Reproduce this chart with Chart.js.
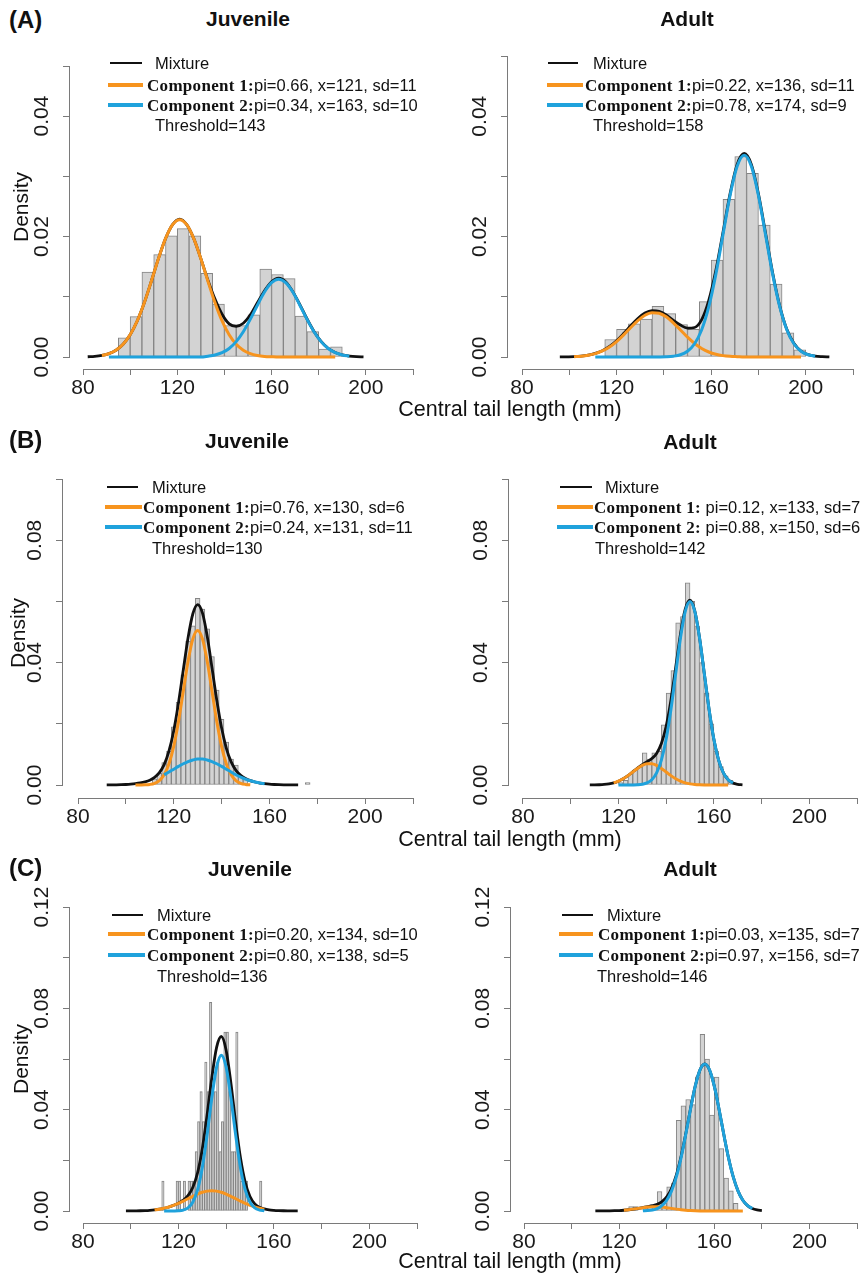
<!DOCTYPE html>
<html><head><meta charset="utf-8">
<script src="https://cdn.jsdelivr.net/npm/chart.js@4.4.1/dist/chart.umd.min.js"></script>
<style>
html,body{margin:0;padding:0;background:#fff;}
body{width:867px;height:1278px;position:relative;overflow:hidden;font-family:"Liberation Sans",Arial,sans-serif;color:#111;}
canvas{position:absolute;}
.t{position:absolute;white-space:nowrap;line-height:1;}
.lg{position:absolute;height:0;}
.cmp{font-family:"Liberation Serif","Times New Roman",serif;font-weight:bold;font-size:17px;letter-spacing:0.3px;}
</style></head>
<body>
<script>
// ---------- shared axis ticks ----------
const xTickValues = [80,100,120,140,160,180,200,220];
const xTickLabels = ['80','','120','','160','','200',''];
const yTicksA1 = [0,0.01,0.02,0.03,0.04,0.0483];
const yLabelsA1 = ['0.00','','0.02','','0.04',''];
const yTicksA2 = [0,0.01,0.02,0.03,0.04,0.05];
const yLabelsA2 = ['0.00','','0.02','','0.04',''];
const yTicksB = [0,0.02,0.04,0.06,0.08,0.10];
const yLabelsB = ['0.00','','0.04','','0.08',''];
const yTicksC = [0,0.02,0.04,0.06,0.08,0.10,0.12];
const yLabelsC = ['0.00','','0.04','','0.08','','0.12'];

// ---------- (A) Juvenile ----------
const aJuvBinWidth = 5;
const aJuvBins = [95,100,105,110,115,120,125,130,135,140,145,150,155,160,165,170,175,180,185];
const aJuvDensity = [0.0032,0.0067,0.0141,0.0170,0.0201,0.0213,0.0201,0.0139,0.0088,0.0052,0.0052,0.0070,0.0146,0.0137,0.0130,0.0068,0.0042,0.0013,0.0017];
const aJuvCurveX = [82,85,88,91,94,97,100,103,106,109,112,115,118,121,124,127,130,133,136,139,142,145,148,151,154,157,160,163,166,169,172,175,178,181,184,187,190,193,196,199];
const aJuvMixture = [0.00004,0.0001,0.00025,0.00055,0.00112,0.00211,0.00369,0.00598,0.0090,0.01258,0.01632,0.01965,0.02197,0.0229,0.02197,0.01965,0.01633,0.01275,0.0096,0.0071,0.0055,0.0051,0.0056,0.0070,0.0090,0.0110,0.0125,0.0131,0.0125,0.01085,0.0087,0.00635,0.00425,0.0026,0.00145,0.00075,0.00035,0.00015,0.00005,0.00002];
const aJuvComp1 = [null,null,0.00025,0.00055,0.00112,0.00211,0.00369,0.00598,0.0090,0.01258,0.01632,0.01965,0.02197,0.0228,0.02197,0.01965,0.01632,0.01258,0.0090,0.00598,0.00369,0.00211,0.00112,0.00055,0.00025,0.0001,0.00004,0,0,0,0,0,0,0,0,0,null,null,null,null];
const aJuvComp2 = [null,null,null,0,0,0,0,0,0,0,0,0,0,0,0,0,0,0.00014,0.00034,0.00072,0.00142,0.00255,0.00419,0.00628,0.0086,0.01078,0.01233,0.0129,0.01233,0.01078,0.0086,0.00628,0.00419,0.00255,0.00142,0.00072,0.00034,0.00014,null,null];

// ---------- (A) Adult ----------
const aAdBinWidth = 5;
const aAdBins = [115,120,125,130,135,140,145,150,155,160,165,170,175,180,185,190,195];
const aAdDensity = [0.0029,0.0046,0.0055,0.0063,0.0084,0.0072,0.0054,0.0046,0.0092,0.0161,0.0262,0.0333,0.0305,0.0219,0.0121,0.0040,0.0012];
const aAdCurveX = [96,99,102,105,108,111,114,117,120,123,126,129,132,135,138,141,144,147,150,153,156,159,162,165,168,171,174,177,180,183,186,189,192,195,198,201,204,207,210];
const aAdMixture = [0.00001,0.00003,0.00006,0.00014,0.0003,0.0006,0.00105,0.00175,0.0027,0.0039,0.0052,0.0064,0.0073,0.0077,0.0076,0.0070,0.0061,0.0053,0.0048,0.0049,0.0062,0.0094,0.0144,0.0207,0.0271,0.0320,0.0338,0.0320,0.0271,0.0206,0.0140,0.0085,0.0046,0.0023,0.0010,0.0004,0.00014,0.00005,0.00001];
const aAdComp1 = [null,null,0.00006,0.00014,0.00029,0.00056,0.001,0.00166,0.00257,0.00368,0.0049,0.00604,0.00693,0.00737,0.00728,0.00667,0.00568,0.00449,0.00329,0.00224,0.00142,0.00083,0.00045,0.00023,0.00011,0.00005,0,0,0,0,0,0,0,0,0,null,null,null,null];
const aAdComp2 = [null,null,null,null,null,0,0,0,0,0,0,0,0,0,0.00001,0.00004,0.00013,0.00037,0.00096,0.0022,0.00453,0.00836,0.01377,0.02032,0.02682,0.03169,0.0335,0.03169,0.02682,0.02032,0.01377,0.00836,0.00453,0.0022,0.00096,0.00037,0.00013,null,null];

// ---------- (B) Juvenile ----------
const bJuvBinWidth = 2;
const bJuvBins = [111,113,115,117,119,121,123,125,127,129,131,133,135,137,139,141,143,145,147,149,175];
const bJuvDensity = [0.0020,0.0038,0.0073,0.0110,0.0190,0.0270,0.0360,0.0470,0.0520,0.0610,0.0575,0.0510,0.0420,0.0310,0.0215,0.0140,0.0085,0.0065,0.0030,0.0018,0.0008];
const bJuvCurveX = [92,94,96,98,100,102,104,106,108,110,112,114,116,118,120,122,124,126,128,130,132,134,136,138,140,142,144,146,148,150,152,154,156,158,160,162,164,166,168,170,172];
const bJuvMixture = [0.00002,0.00003,0.00005,0.00009,0.00016,0.00026,0.00042,0.00066,0.00102,0.00156,0.00247,0.00402,0.00667,0.01106,0.01776,0.02684,0.03757,0.04811,0.05596,0.05897,0.05624,0.04863,0.0383,0.0277,0.01868,0.01199,0.00755,0.00479,0.00314,0.0021,0.00143,0.00098,0.00064,0.00042,0.00026,0.00016,0.00009,0.00005,0.00003,0.00002,0.00001];
const bJuvComp1 = [null,null,null,null,null,null,0,0.00002,0.00006,0.00019,0.00056,0.00144,0.00332,0.00683,0.0126,0.02076,0.03063,0.04044,0.04777,0.0505,0.04777,0.04044,0.03063,0.02076,0.0126,0.00683,0.00332,0.00144,0.00056,0.00019,0.00006,null,null,null,null,null,null,null,null,null,null];
const bJuvComp2 = [null,null,null,null,null,null,null,null,null,null,null,null,0.00335,0.00423,0.00516,0.00608,0.00694,0.00767,0.00819,0.00847,0.00847,0.00819,0.00767,0.00694,0.00608,0.00516,0.00423,0.00335,0.00258,0.00191,0.00137,0.00096,0.00064,0.00042,null,null,null,null,null,null,null];

// ---------- (B) Adult ----------
const bAdBinWidth = 2;
const bAdBins = [120,122,124,126,128,130,132,134,136,138,140,142,144,146,148,150,152,154,156,158,160,162,164,166,168];
const bAdDensity = [0.0008,0.0015,0.0035,0.0049,0.0060,0.0105,0.0085,0.0105,0.0110,0.0197,0.0300,0.0374,0.0530,0.0550,0.0661,0.0600,0.0520,0.0400,0.0300,0.0200,0.0110,0.0060,0.0030,0.0015,0.0005];
const bAdCurveX = [108,110,112,114,116,118,120,122,124,126,128,130,132,134,136,138,140,142,144,146,148,150,152,154,156,158,160,162,164,166,168,170,172];
const bAdMixture = [0.00001,0.00003,0.00008,0.00018,0.00037,0.0007,0.00125,0.00204,0.00307,0.00427,0.00549,0.00662,0.0076,0.00865,0.01033,0.01354,0.01921,0.02773,0.03843,0.04929,0.05745,0.06037,0.05693,0.04812,0.03642,0.02468,0.01496,0.00812,0.00394,0.00172,0.00067,0.00023,0.00007];
const bAdComp1 = [null,null,null,null,null,0.0007,0.00125,0.00204,0.00306,0.00425,0.00542,0.00639,0.00693,0.00693,0.00639,0.00542,0.00425,0.00306,0.00204,0.00125,0.0007,0.00037,0.00018,0.00008,0.00003,0.00001,0,0,0,0,null,null,null];
const bAdComp2 = [null,null,null,null,null,null,0,0,0,0.00002,0.00007,0.00023,0.00067,0.00172,0.00394,0.00812,0.01496,0.02467,0.03639,0.04804,0.05675,0.06,0.05675,0.04804,0.03639,0.02467,0.01496,0.00812,0.00394,0.00172,0.00067,null,null];

// ---------- (C) Juvenile ----------
const cJuvBinWidth = 1;
const cJuvBins = [113,119,120,122,124,125,126,127,128,129,130,131,132,133,134,135,136,137,138,139,140,141,142,143,144,145,146,147,148,154];
const cJuvDensity = [0.0118,0.0118,0.0118,0.0118,0.0118,0.0118,0.0118,0.0235,0.0353,0.0471,0.0353,0.0588,0.0471,0.0824,0.0471,0.0471,0.0588,0.0235,0.0353,0.0706,0.0706,0.0471,0.0235,0.0235,0.0706,0.0235,0.0118,0.0118,0.0118,0.0118];
const cJuvCurveX = [98,100,102,104,106,108,110,112,114,116,118,120,122,124,126,128,130,132,134,136,138,140,142,144,146,148,150,152,154,156,158,160,162,164,166,168,170];
const cJuvMixture = [0.00001,0.00002,0.00005,0.00009,0.00016,0.00027,0.00045,0.00071,0.00108,0.00158,0.00224,0.00309,0.00426,0.00607,0.00926,0.015,0.02448,0.03778,0.05266,0.06461,0.06888,0.06345,0.05047,0.03479,0.02099,0.01132,0.00567,0.0028,0.00145,0.0008,0.00045,0.00027,0.00016,0.00009,0.00005,0.00002,0.00001];
const cJuvComp1 = [null,null,null,null,null,null,0.00045,0.00071,0.00108,0.00158,0.00222,0.003,0.00389,0.00485,0.00581,0.00668,0.00738,0.00784,0.008,0.00784,0.00738,0.00668,0.00581,0.00485,0.00389,0.003,0.00222,0.00158,0.00108,0.00071,null,null,null,null,null,null,null];
const cJuvComp2 = [null,null,null,null,null,null,null,null,0,0,0.00002,0.00009,0.00037,0.00122,0.00345,0.00832,0.0171,0.02994,0.04466,0.05677,0.0615,0.05677,0.04466,0.02994,0.0171,0.00832,0.00345,0.00122,0.00037,0.00009,null,null,null,null,null,null,null];

// ---------- (C) Adult ----------
const cAdBinWidth = 2;
const cAdBins = [124,126,130,132,134,136,138,140,142,144,146,148,150,152,154,156,158,160,162,164,166,168];
const cAdDensity = [0.0017,0.0017,0.0017,0.0017,0.0017,0.0077,0.0030,0.0095,0.0110,0.0358,0.0415,0.0440,0.0420,0.0530,0.0697,0.0600,0.0379,0.0529,0.0246,0.0130,0.0080,0.0030];
const cAdCurveX = [110,112,114,116,118,120,122,124,126,128,130,132,134,136,138,140,142,144,146,148,150,152,154,156,158,160,162,164,166,168,170,172,174,176,178,180];
const cAdMixture = [0.00001,0.00002,0.00004,0.00007,0.00011,0.00017,0.0003,0.00049,0.00075,0.00105,0.00138,0.00171,0.0021,0.00266,0.00368,0.00558,0.00888,0.01409,0.02139,0.03049,0.04035,0.04936,0.05572,0.05802,0.05568,0.04927,0.04018,0.03019,0.0209,0.01335,0.00785,0.00426,0.00213,0.00098,0.00042,0.00016];
const cAdComp1 = [null,null,null,null,null,null,0.0003,0.00049,0.00074,0.00103,0.00132,0.00155,0.00168,0.00168,0.00155,0.00132,0.00103,0.00074,0.00049,0.0003,0.00017,0.00009,0.00004,0.00002,0,0,0,0,0,0,0,0,null,null,null,null];
const cAdComp2 = [null,null,null,null,null,null,null,null,null,null,0.00006,0.00016,0.00042,0.00098,0.00213,0.00426,0.00785,0.01335,0.0209,0.03019,0.04018,0.04927,0.05568,0.058,0.05568,0.04927,0.04018,0.03019,0.0209,0.01335,0.00785,0.00426,0.00213,0.00098,null,null];

// ---------- text ----------
const rowLabels = ['(A)','(B)','(C)'];
const groupTitles = ['Juvenile','Adult'];
const yAxisTitle = 'Density';
const xAxisTitle = 'Central tail length (mm)';
const legendMixture = 'Mixture';
const legendComp = ['Component 1:','Component 2:'];

const COL_MIX = '#111111', COL_C1 = '#F7941E', COL_C2 = '#1FA2DC';
const FONT = '"Liberation Sans", Arial, sans-serif';

const panels = [
  {geo:{axisX:70,x80:83,x220:413,topY:66,y0:357,xAxisY:369}, ymax:0.0483, yT:yTicksA1, yL:yLabelsA1,
   bins:aJuvBins, bw:aJuvBinWidth, dens:aJuvDensity, cx:aJuvCurveX, mix:aJuvMixture, c1:aJuvComp1, c2:aJuvComp2,
   leg:{mix:[110,142,63], mixText:155, comp:[108,143], compText:147, rows:[85,105], thr:[155,125]},
   c1t:'pi=0.66, x=121, sd=11', c2t:'pi=0.34, x=163, sd=10', th:'Threshold=143'},
  {geo:{axisX:508,x80:522,x220:853,topY:56,y0:357,xAxisY:369}, ymax:0.05, yT:yTicksA2, yL:yLabelsA2,
   bins:aAdBins, bw:aAdBinWidth, dens:aAdDensity, cx:aAdCurveX, mix:aAdMixture, c1:aAdComp1, c2:aAdComp2,
   leg:{mix:[548,578,63], mixText:593, comp:[547,583], compText:585, rows:[85,105], thr:[593,125]},
   c1t:'pi=0.22, x=136, sd=11', c2t:'pi=0.78, x=174, sd=9', th:'Threshold=158'},
  {geo:{axisX:63,x80:78,x220:413,topY:479,y0:785,xAxisY:798}, ymax:0.10, yT:yTicksB, yL:yLabelsB,
   bins:bJuvBins, bw:bJuvBinWidth, dens:bJuvDensity, cx:bJuvCurveX, mix:bJuvMixture, c1:bJuvComp1, c2:bJuvComp2,
   leg:{mix:[107,138,487], mixText:152, comp:[105,142], compText:143, rows:[507,527], thr:[152,548]},
   c1t:'pi=0.76, x=130, sd=6', c2t:'pi=0.24, x=131, sd=11', th:'Threshold=130'},
  {geo:{axisX:509,x80:523,x220:857,topY:479,y0:785,xAxisY:798}, ymax:0.10, yT:yTicksB, yL:yLabelsB,
   bins:bAdBins, bw:bAdBinWidth, dens:bAdDensity, cx:bAdCurveX, mix:bAdMixture, c1:bAdComp1, c2:bAdComp2,
   leg:{mix:[560,592,487], mixText:605, comp:[557,593], compText:594, rows:[507,527], thr:[595,548]},
   c1t:' pi=0.12, x=133, sd=7', c2t:' pi=0.88, x=150, sd=6', th:'Threshold=142'},
  {geo:{axisX:70,x80:83,x220:417,topY:907,y0:1211,xAxisY:1223}, ymax:0.12, yT:yTicksC, yL:yLabelsC,
   bins:cJuvBins, bw:cJuvBinWidth, dens:cJuvDensity, cx:cJuvCurveX, mix:cJuvMixture, c1:cJuvComp1, c2:cJuvComp2,
   leg:{mix:[112,143,915], mixText:157, comp:[108,145], compText:147, rows:[934,955], thr:[157,976]},
   c1t:'pi=0.20, x=134, sd=10', c2t:'pi=0.80, x=138, sd=5', th:'Threshold=136'},
  {geo:{axisX:511,x80:524,x220:857,topY:907,y0:1211,xAxisY:1223}, ymax:0.12, yT:yTicksC, yL:yLabelsC,
   bins:cAdBins, bw:cAdBinWidth, dens:cAdDensity, cx:cAdCurveX, mix:cAdMixture, c1:cAdComp1, c2:cAdComp2,
   leg:{mix:[562,593,915], mixText:607, comp:[559,593], compText:598, rows:[934,955], thr:[597,976]},
   c1t:'pi=0.03, x=135, sd=7', c2t:'pi=0.97, x=156, sd=7', th:'Threshold=146'}
];

const AXIS_COL = '#7a7a7a';
const axisLines = {
  id:'axisLines',
  beforeDatasetsDraw(chart){
    const {ctx, chartArea, scales:{x,y}} = chart;
    const top = chart.options.plugins.axisLines.ymax;
    ctx.save();
    ctx.strokeStyle = AXIS_COL; ctx.lineWidth = 1;
    ctx.beginPath();
    const by = Math.round(chartArea.bottom) + 0.5;
    ctx.moveTo(Math.round(x.getPixelForValue(80)), by);
    ctx.lineTo(Math.round(x.getPixelForValue(220)) + 1, by);
    const lx = Math.round(chartArea.left) - 0.5;
    ctx.moveTo(lx, Math.round(y.getPixelForValue(0)) + 1);
    ctx.lineTo(lx, Math.round(y.getPixelForValue(top)));
    ctx.stroke();
    ctx.restore();
  }
};

function pts(xs, ys){
  const out = [];
  xs.forEach((x,i)=>{ if (ys[i] !== null) out.push({x:x, y:ys[i]}); });
  return out;
}

function addText(txt, left, cy, size, opts){
  const d = document.createElement('div');
  d.className = 't';
  d.textContent = txt;
  d.style.fontSize = size + 'px';
  d.style.top = (cy - size/2) + 'px';
  if (opts && opts.center) { d.style.left = left + 'px'; d.style.transform = 'translateX(-50%)'; }
  else d.style.left = left + 'px';
  if (opts && opts.bold) d.style.fontWeight = 'bold';
  document.body.appendChild(d);
  return d;
}
function addLine(x1, x2, y, w, col){
  const d = document.createElement('div');
  d.className = 'lg';
  d.style.left = x1 + 'px'; d.style.width = (x2-x1) + 'px';
  d.style.top = (y - w/2) + 'px'; d.style.height = w + 'px';
  d.style.background = col;
  document.body.appendChild(d);
}

const WY = 62, HX = 44, PADT = 30, PADR = 12;
panels.forEach(p => {
  const g = p.geo;
  const xmin = 80 - (g.x80 - g.axisX) * (220 - 80) / (g.x220 - g.x80);
  const ymin = -p.ymax * (g.xAxisY - g.y0) / (g.y0 - g.topY);
  const cv = document.createElement('canvas');
  const W = WY + (g.x220 - g.axisX) + PADR;
  const H = PADT + (g.xAxisY - g.topY) + HX;
  cv.width = W; cv.height = H;
  cv.style.left = (g.axisX - WY) + 'px';
  cv.style.top = (g.topY - PADT) + 'px';
  cv.style.width = W + 'px'; cv.style.height = H + 'px';
  document.body.appendChild(cv);

  const bars = p.bins.map((b,i) => ({x: b + p.bw/2, y: p.dens[i]}));
  new Chart(cv.getContext('2d'), {
    type: 'bar',
    data: { datasets: [
      {type:'bar', data: bars, backgroundColor:'#d3d3d3', borderColor:'#858585', borderWidth:1,
       borderSkipped:false, barPercentage:1, categoryPercentage:1, order:4},
      {type:'line', data: pts(p.cx, p.mix), borderColor: COL_MIX, borderWidth:2.8, pointRadius:0,
       cubicInterpolationMode:'monotone', fill:false, order:3},
      {type:'line', data: pts(p.cx, p.c1), borderColor: COL_C1, borderWidth:3, pointRadius:0,
       cubicInterpolationMode:'monotone', fill:false, order:2},
      {type:'line', data: pts(p.cx, p.c2), borderColor: COL_C2, borderWidth:3, pointRadius:0,
       cubicInterpolationMode:'monotone', fill:false, order:1}
    ]},
    options: {
      responsive:false, animation:false, devicePixelRatio:1,
      layout:{padding:{top:PADT, right:PADR, left:0, bottom:0}},
      plugins:{legend:{display:false}, tooltip:{enabled:false}, axisLines:{ymax:p.ymax}},
      scales:{
        x:{type:'linear', min:xmin, max:220, offset:false,
           afterBuildTicks: ax => { ax.ticks = xTickValues.map(v => ({value:v})); },
           afterFit: ax => { ax.height = HX; },
           grid:{offset:false, drawOnChartArea:false, drawTicks:true, tickLength:6, color:AXIS_COL, lineWidth:1},
           border:{display:false},
           ticks:{autoSkip:false, maxRotation:0, minRotation:0, padding:1, color:'#1a1a1a',
                  font:{family:FONT, size:21}, callback:(v,i) => xTickLabels[i]}},
        y:{type:'linear', min:ymin, max:p.ymax,
           afterBuildTicks: ax => { ax.ticks = p.yT.map(v => ({value:v})); },
           afterFit: ax => { ax.width = WY; },
           grid:{offset:false, drawOnChartArea:false, drawTicks:true, tickLength:7, color:AXIS_COL, lineWidth:1},
           border:{display:false},
           ticks:{autoSkip:false, minRotation:90, maxRotation:90, crossAlign:'center', padding:0, color:'#1a1a1a',
                  font:{family:FONT, size:21}, callback:(v,i) => p.yL[i]}}
      }
    },
    plugins:[axisLines]
  });

  // legend
  const L = p.leg;
  addLine(L.mix[0], L.mix[1], L.mix[2], 2.5, COL_MIX);
  addText(legendMixture, L.mixText, L.mix[2], 16.5);
  [[COL_C1, p.c1t],[COL_C2, p.c2t]].forEach((c, k) => {
    addLine(L.comp[0], L.comp[1], L.rows[k], 4, c[0]);
    const d = addText('', L.compText, L.rows[k], 16.5);
    const s = document.createElement('span'); s.className = 'cmp'; s.textContent = legendComp[k];
    d.appendChild(s);
    d.appendChild(document.createTextNode(c[1]));
  });
  addText(p.th, L.thr[0], L.thr[1], 16.5);
});

// titles and labels
[[20,18],[440,440],[868,868]].forEach((r, i) => {
  addText(rowLabels[i], 9, r[0], 24, {bold:true});
});
[[248,18,687,18],[247,440,690,441],[250,868,690,868]].forEach(r => {
  addText(groupTitles[0], r[0], r[1], 21, {bold:true, center:true});
  addText(groupTitles[1], r[2], r[3], 21, {bold:true, center:true});
});
[[20,207],[17,633],[20,1059]].forEach(r => {
  const d = document.createElement('div');
  d.className = 't'; d.textContent = yAxisTitle; d.style.fontSize = '21px';
  d.style.left = r[0] + 'px'; d.style.top = r[1] + 'px';
  d.style.transform = 'translate(-50%,-50%) rotate(-90deg)';
  document.body.appendChild(d);
});
[410, 840, 1262].forEach(cy => addText(xAxisTitle, 510, cy, 21.5, {center:true}));
</script>
</body></html>
